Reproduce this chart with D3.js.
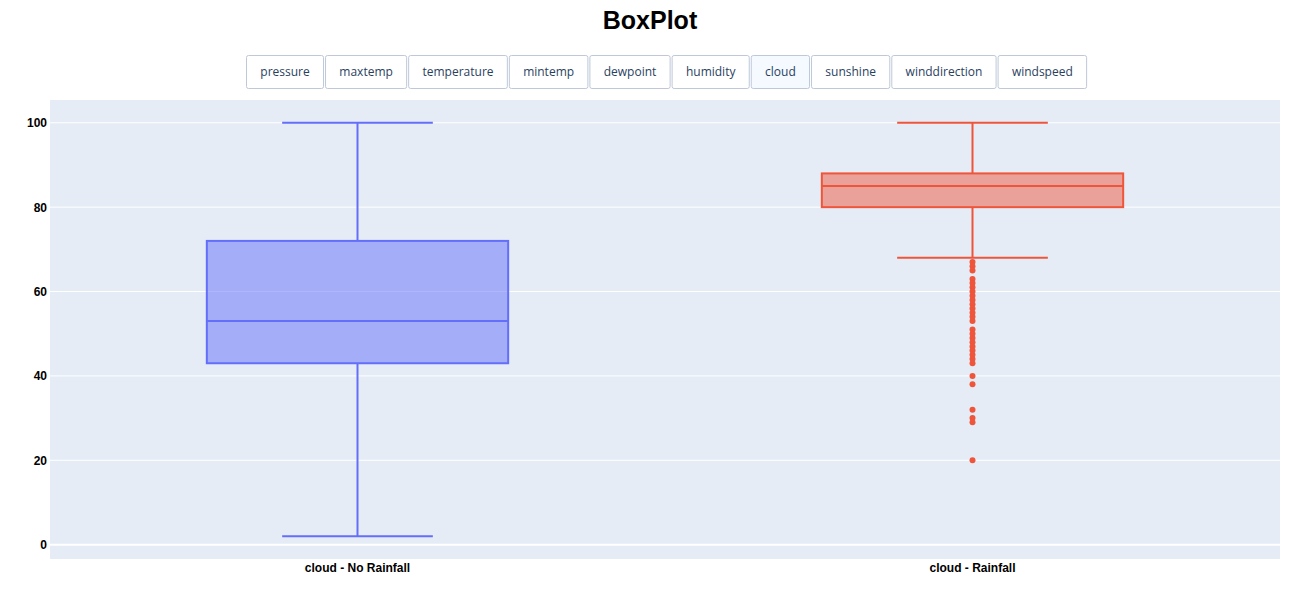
<!DOCTYPE html>
<html><head><meta charset="utf-8">
<script src="https://cdn.jsdelivr.net/npm/d3@7"></script>
<style>
html,body{margin:0;padding:0;background:#fff;}
svg{display:block;}
</style></head>
<body>
<svg id="chart" width="1300" height="600"></svg>
<script>
// ---- data ----
const buttonLabels = ["pressure","maxtemp","temperature","mintemp","dewpoint","humidity","cloud","sunshine","winddirection","windspeed"];
const activeButton = "cloud";
const categories = ["cloud - No Rainfall","cloud - Rainfall"];
const boxMin = [2, 68];
const boxQ1 = [43, 80];
const boxMedian = [53, 85];
const boxQ3 = [72, 88];
const boxMax = [100, 100];
const outliersNoRain = [];
const outliersRain = [67,66,65,63,62,61,60,59,58,57,56,55,54,53,51,50,49,48,47,46,45,44,43,40,38,32,30,29,20];
const yTicks = [0,20,40,60,80,100];
const colors = ["#636efa","#ef553b"];
const fills = ["rgba(99,110,250,0.5)","rgba(239,85,59,0.5)"];

const svg = d3.select("#chart");
const W = 1300, H = 600;
const m = {l:50, r:20, t:100, b:41};

svg.append("text").attr("x",650).attr("y",29).attr("text-anchor","middle")
  .attr("font-family","Liberation Sans, Arial, sans-serif").attr("font-weight","bold")
  .attr("font-size",25).attr("fill","#000").text("BoxPlot");

// buttons
const bg = svg.append("g");
let bx = 246.5;
buttonLabels.forEach(lbl=>{
  const g = bg.append("g");
  const t = g.append("text").attr("font-family","'Open Sans', sans-serif").attr("font-size",12)
    .attr("fill","#2a3f5f").text(lbl);
  const tw = t.node().getComputedTextLength();
  const w = tw + 27.6;
  g.insert("rect","text").attr("x",bx).attr("y",55.5).attr("width",w).attr("height",33)
    .attr("rx",2).attr("fill", lbl===activeButton ? "#F4FAFF" : "#fff")
    .attr("stroke","#BEC8D9").attr("stroke-width",1);
  t.attr("x",bx+w/2).attr("y",75.5).attr("text-anchor","middle");
  bx += w + 2;
});

// plot
const x = d3.scaleBand().domain(categories).range([m.l, W-m.r]);
const y = d3.scaleLinear().domain([-3.4,105.4]).range([H-m.b, m.t]);

svg.append("rect").attr("x",m.l).attr("y",m.t).attr("width",W-m.l-m.r).attr("height",H-m.t-m.b).attr("fill","#E5ECF6");

const grid = svg.append("g");
yTicks.forEach(v=>{
  grid.append("line").attr("x1",m.l).attr("x2",W-m.r).attr("y1",y(v)).attr("y2",y(v))
    .attr("stroke","#fff").attr("stroke-width", v===0?2:1);
});

const yAxis = svg.append("g").attr("transform",`translate(${m.l},0)`)
  .call(d3.axisLeft(y).tickValues(yTicks).tickSize(0).tickPadding(3));
yAxis.select(".domain").remove();
yAxis.selectAll("text").attr("font-family","Liberation Sans, Arial, sans-serif").attr("font-size",12)
  .attr("font-weight","bold").attr("fill","#000");

const xAxis = svg.append("g").attr("transform",`translate(0,${H-m.b})`)
  .call(d3.axisBottom(x).tickSize(0).tickPadding(4.5));
xAxis.select(".domain").remove();
xAxis.selectAll("text").attr("font-family","Liberation Sans, Arial, sans-serif").attr("font-size",12)
  .attr("font-weight","bold").attr("fill","#000");

const boxFrac = 0.49;
categories.forEach((c,i)=>{
  const cx = x(c) + x.bandwidth()/2;
  const bw = x.bandwidth()*boxFrac;
  const g = svg.append("g");
  const col = colors[i];
  // whiskers
  g.append("line").attr("x1",cx).attr("x2",cx).attr("y1",y(boxMax[i])).attr("y2",y(boxQ3[i])).attr("stroke",col).attr("stroke-width",2);
  g.append("line").attr("x1",cx).attr("x2",cx).attr("y1",y(boxQ1[i])).attr("y2",y(boxMin[i])).attr("stroke",col).attr("stroke-width",2);
  g.append("line").attr("x1",cx-bw/4).attr("x2",cx+bw/4).attr("y1",y(boxMax[i])).attr("y2",y(boxMax[i])).attr("stroke",col).attr("stroke-width",2);
  g.append("line").attr("x1",cx-bw/4).attr("x2",cx+bw/4).attr("y1",y(boxMin[i])).attr("y2",y(boxMin[i])).attr("stroke",col).attr("stroke-width",2);
  g.append("rect").attr("x",cx-bw/2).attr("y",y(boxQ3[i])).attr("width",bw).attr("height",y(boxQ1[i])-y(boxQ3[i]))
    .attr("fill",fills[i]).attr("stroke",col).attr("stroke-width",2);
  g.append("line").attr("x1",cx-bw/2).attr("x2",cx+bw/2).attr("y1",y(boxMedian[i])).attr("y2",y(boxMedian[i])).attr("stroke",col).attr("stroke-width",2);
  const outs = i===0 ? outliersNoRain : outliersRain;
  g.selectAll("circle").data(outs).join("circle").attr("cx",cx).attr("cy",d=>y(d)).attr("r",3).attr("fill",col);
});
</script>
</body></html>
